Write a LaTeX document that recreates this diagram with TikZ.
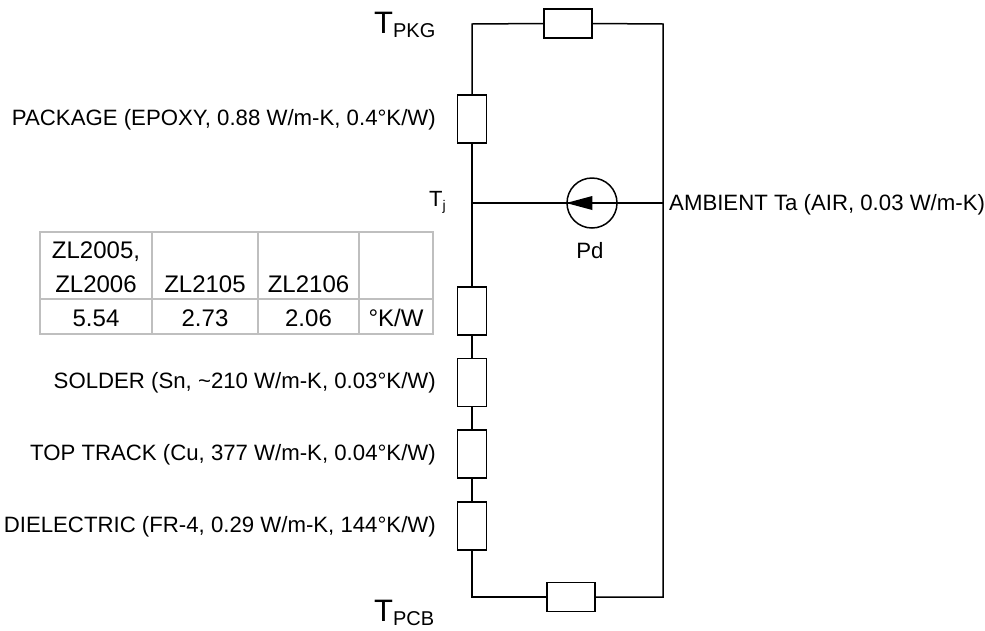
\documentclass[tikz,border=0pt]{standalone}
\usepackage{fontspec}
\setmainfont{Liberation Sans}
\begin{document}
\begin{tikzpicture}[x=1pt,y=-1pt,
  wire/.style={line width=1.5pt, line join=miter},
  vres/.style={draw, line width=1.5pt, rectangle, minimum width=29pt, minimum height=48pt, inner sep=0pt, fill=white},
  hres/.style={draw, line width=1.5pt, rectangle, minimum width=48pt, minimum height=29pt, inner sep=0pt, fill=white},
  lbl/.style={font=\fontsize{22.2}{26}\selectfont, inner sep=0pt},
  tbl/.style={font=\fontsize{24}{28}\selectfont, inner sep=0pt},
  grid line/.style={draw=black!25, line width=2.5pt}]
\useasboundingbox (0,0) rectangle (985,630);

% junction coordinates
\coordinate (cTL) at (472,24);
\coordinate (cTR) at (663,24);
\coordinate (cJ) at (472,203);
\coordinate (cJR) at (663,203);
\coordinate (cBL) at (472,597);
\coordinate (cBR) at (663,597);

% Tj branch (wire runs through the source)
\draw[wire] (cJ) -- (cJR);

% resistors
\node[hres] (rtop) at (568,23.5) {};
\node[vres] (rpkg) at (472,119) {};
\node[vres] (r1) at (472,311) {};
\node[vres] (rsol) at (472,382.5) {};
\node[vres] (rtrk) at (472,454) {};
\node[vres] (rdie) at (472,526) {};
\node[hres] (rbot) at (571,597) {};

% source
\node[draw, circle, line width=1.5pt, minimum size=50pt, inner sep=0pt] (src) at (592,203) {};
\fill (src.west) -- ++(26,-7) -- ++(0,14) -- cycle;

% wires
\draw[wire] (rtop.west) -- (cTL) -- (rpkg.north);
\draw[wire] (rpkg.south) -- (cJ) -- (r1.north);
\draw[wire] (r1.south) -- (rsol.north);
\draw[wire] (rsol.south) -- (rtrk.north);
\draw[wire] (rtrk.south) -- (rdie.north);
\draw[wire] (rdie.south) -- (cBL) -- (rbot.west);
\draw[wire] (rbot.east) -- (cBR) -- (cJR) -- (cTR) -- (rtop.east);

% labels
\node[lbl, anchor=east] (lpkg) at (436,120) {PACKAGE (EPOXY, 0.88 W/m-K, 0.4°K/W)};
\node[lbl, anchor=east] (lsol) at (436,383) {SOLDER (Sn, \textasciitilde210 W/m-K, 0.03°K/W)};
\node[lbl, anchor=east] (ltrk) at (436,455) {TOP TRACK (Cu, 377 W/m-K, 0.04°K/W)};
\node[lbl, anchor=east] (ldie) at (436,527) {DIELECTRIC (FR-4, 0.29 W/m-K, 144°K/W)};
\node[lbl, anchor=west] (lamb) at (669,205) {AMBIENT Ta (AIR, 0.03 W/m-K)};
\node[lbl] (lpd) at (590,251) {Pd};
\node[inner sep=0pt, anchor=base west] (ltj) at (429,206) {\fontsize{22}{22}\selectfont T\raisebox{-4pt}{\fontsize{14}{14}\selectfont j}};
\node[inner sep=0pt, anchor=base west] (ltpkg) at (374,33) {\fontsize{31}{31}\selectfont T\raisebox{-4pt}{\fontsize{20}{20}\selectfont PKG}};
\node[inner sep=0pt, anchor=base west] (ltpcb) at (374,621) {\fontsize{31}{31}\selectfont T\raisebox{-4pt}{\fontsize{20}{20}\selectfont PCB}};

% table
\draw[grid line] (40,232) rectangle (433,334);
\draw[grid line] (40,299) -- (433,299);
\draw[grid line] (152,232) -- (152,334);
\draw[grid line] (258,232) -- (258,334);
\draw[grid line] (359,232) -- (359,334);
\node[tbl] (h1a) at (96,252) {ZL2005,};
\node[tbl] (h1b) at (96,284) {ZL2006};
\node[tbl] (h2) at (205,284) {ZL2105};
\node[tbl] (h3) at (308.5,284) {ZL2106};
\node[tbl] (v1) at (96,318) {5.54};
\node[tbl] (v2) at (205,318) {2.73};
\node[tbl] (v3) at (308.5,318) {2.06};
\node[tbl] (v4) at (396,318) {°K/W};
\end{tikzpicture}
\end{document}
